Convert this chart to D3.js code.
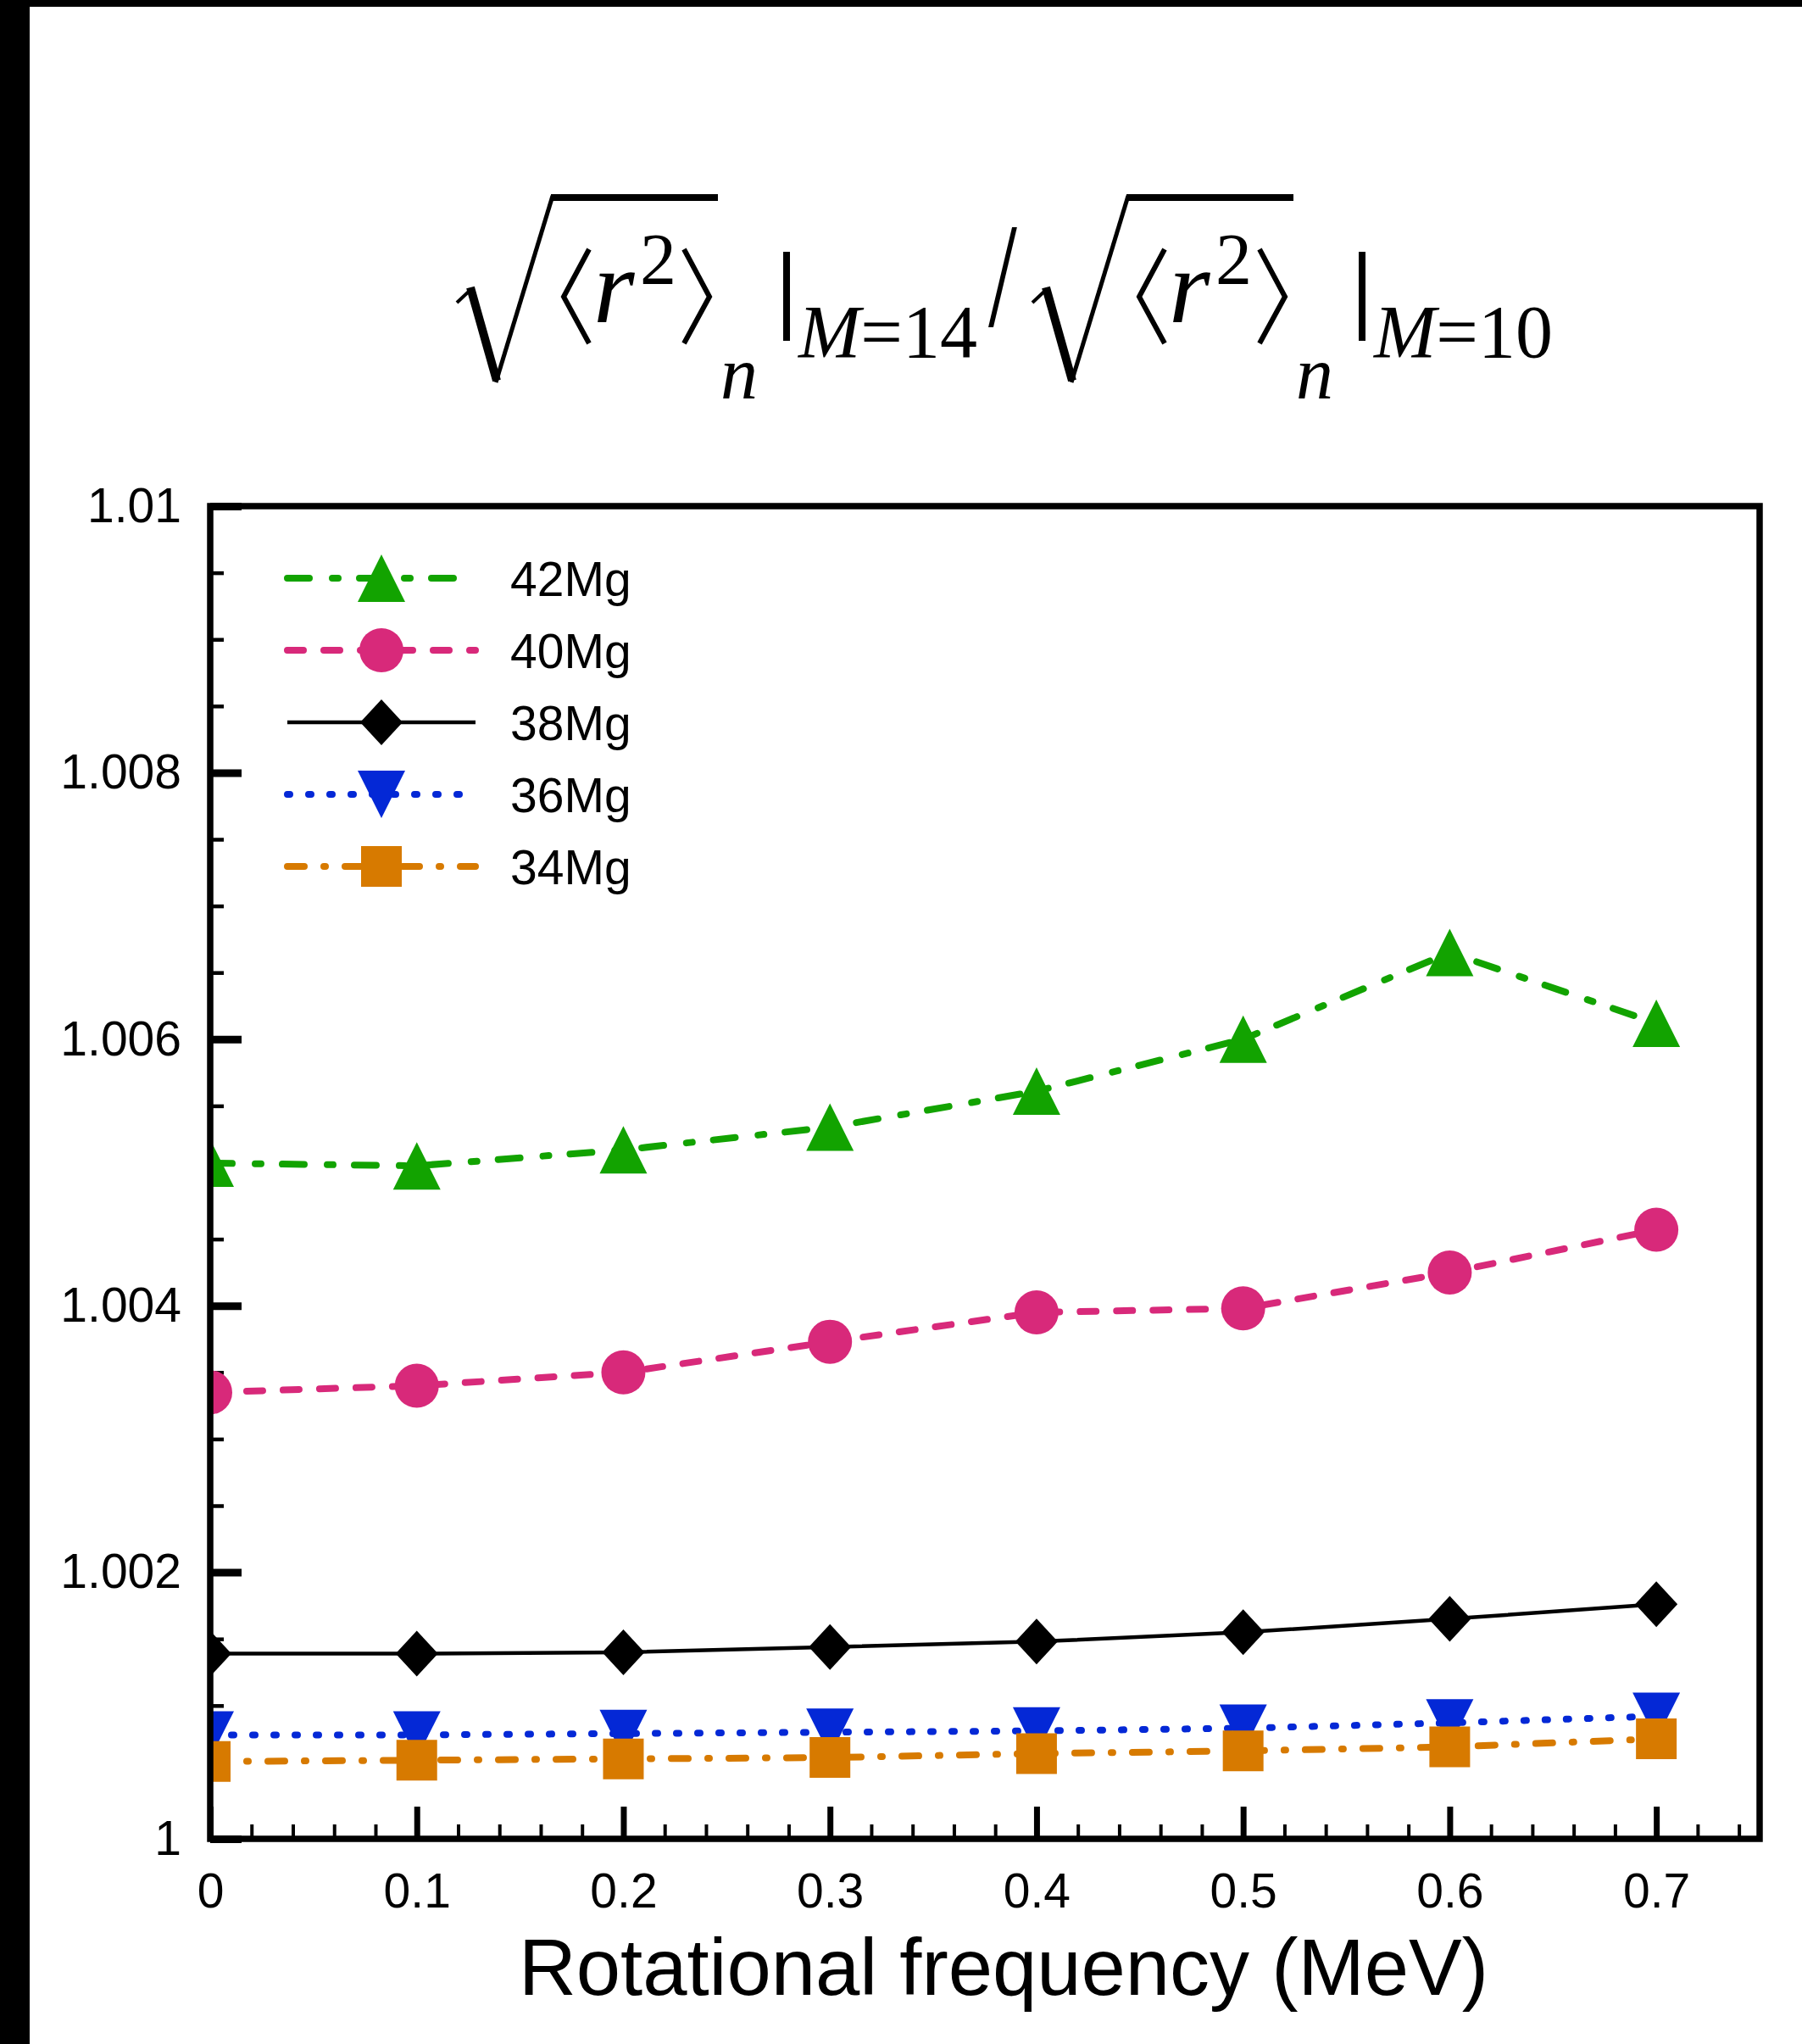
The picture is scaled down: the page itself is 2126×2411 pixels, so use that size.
<!DOCTYPE html>
<html>
<head>
<meta charset="utf-8">
<script src="https://cdn.jsdelivr.net/npm/d3@7"></script>
<style>
  body { margin: 0; background: #fff; }
  svg { display: block; }
</style>
</head>
<body>
<script>
// values
var freq = [0, 0.1, 0.2, 0.3, 0.4, 0.5, 0.6, 0.7]
var mg42 = [1.00507, 1.00505, 1.00517, 1.00534, 1.00561, 1.00600, 1.00665, 1.00612]
var mg40 = [1.00335, 1.00340, 1.00350, 1.00373, 1.00395, 1.00398, 1.00425, 1.00457]
var mg38 = [1.00139, 1.00139, 1.00140, 1.00144, 1.00148, 1.00155, 1.00165, 1.00176]
var mg36 = [1.00078, 1.00078, 1.00079, 1.00080, 1.00081, 1.00083, 1.00087, 1.00092]
var mg34 = [1.00058, 1.00059, 1.00060, 1.00061, 1.00064, 1.00066, 1.00069, 1.00075]
var names = ['42Mg', '40Mg', '38Mg', '36Mg', '34Mg']
var values = [mg42, mg40, mg38, mg36, mg34]
var xMajor = [0, 0.1, 0.2, 0.3, 0.4, 0.5, 0.6, 0.7]
var yMajor = [1, 1.002, 1.004, 1.006, 1.008, 1.01]

var W = 2126, H = 2411
var frame = { left: 248, right: 2076, top: 597, bottom: 2169 }

var style = {
  '42Mg': { color: '#12a300', dash: '26 27 7 25', width: 8, marker: 'triUp' },
  '40Mg': { color: '#d8297a', dash: '19 24', width: 8, marker: 'circle' },
  '38Mg': { color: '#000000', dash: null, width: 4.5, marker: 'diamond' },
  '36Mg': { color: '#0428d6', dash: '3 22', width: 8, marker: 'triDown' },
  '34Mg': { color: '#d77a00', dash: '20 23 2 23', width: 8, marker: 'square' }
}

var x = d3.scaleLinear().domain([0, 0.75]).range([frame.left, frame.right])
var y = d3.scaleLinear().domain([1, 1.01]).range([frame.bottom, frame.top])

var svg = d3.select('body').append('svg')
  .attr('width', W)
  .attr('height', H)

svg.append('rect').attr('width', W).attr('height', H).attr('fill', '#fff')
// black border strips of the scanned page
svg.append('rect').attr('x', 0).attr('y', 0).attr('width', 35).attr('height', H).attr('fill', '#000')
svg.append('rect').attr('x', 0).attr('y', 0).attr('width', W).attr('height', 8).attr('fill', '#000')

function markerPath(type) {
  if (type == 'triUp') return 'M0,-28L28,28L-28,28Z'
  if (type == 'triDown') return 'M-28,-28L28,-28L0,28Z'
  if (type == 'diamond') return 'M0,-27L25,0L0,27L-25,0Z'
  if (type == 'square') return 'M-24,-24H24V24H-24Z'
  // circle
  return d3.arc()({ innerRadius: 0, outerRadius: 26, startAngle: 0, endAngle: 2 * Math.PI })
}

// ---- title (math expression) ----
var title = svg.append('g').attr('class', 'title')

function drawRoot(dx, sub) {
  var g = title.append('g').attr('transform', 'translate(' + dx + ',0)')
  // radical
  g.append('path').attr('d', 'M539,357L556,341').attr('stroke', '#000').attr('stroke-width', 4).attr('fill', 'none')
  g.append('path').attr('d', 'M555,339L586,449').attr('stroke', '#000').attr('stroke-width', 10).attr('fill', 'none')
  g.append('path').attr('d', 'M585,451L652,231').attr('stroke', '#000').attr('stroke-width', 5).attr('fill', 'none')
  g.append('path').attr('d', 'M650,233H847').attr('stroke', '#000').attr('stroke-width', 8).attr('fill', 'none')
  // angle brackets
  g.append('path').attr('d', 'M695,294L665,350L695,405').attr('stroke', '#000').attr('stroke-width', 6).attr('fill', 'none')
  g.append('path').attr('d', 'M807,294L837,350L807,405').attr('stroke', '#000').attr('stroke-width', 6).attr('fill', 'none')
  g.append('text').attr('x', 700).attr('y', 380)
    .style('font-family', 'Liberation Serif').style('font-style', 'italic').style('font-size', '125px')
    .text('r')
  g.append('text').attr('x', 755).attr('y', 335)
    .style('font-family', 'Liberation Serif').style('font-size', '86px')
    .text('2')
  g.append('text').attr('x', 850).attr('y', 470)
    .style('font-family', 'Liberation Serif').style('font-style', 'italic').style('font-size', '88px')
    .text('n')
  // evaluation bar
  g.append('path').attr('d', 'M928,297V402').attr('stroke', '#000').attr('stroke-width', 8)
  var t = g.append('text').attr('x', 942).attr('y', 421)
    .style('font-family', 'Liberation Serif').style('font-size', '88px')
  t.append('tspan').style('font-style', 'italic').text('M')
  t.append('tspan').text('=' + sub)
}
drawRoot(0, '14')
title.append('text').attr('x', 1166).attr('y', 384)
  .style('font-family', 'Liberation Serif').style('font-size', '122px')
  .attr('transform', 'translate(1166,384) scale(1,1.45) translate(-1166,-384)')
  .text('/')
drawRoot(679, '10')

// ---- axes ----
var fontAxis = 'Liberation Sans, Arial, Helvetica, sans-serif'
var xMinor = d3.range(0, 0.75, 0.02).filter(function(v) { return Math.abs(v * 10 - Math.round(v * 10)) > 1e-6 })
var yMinor = d3.range(1, 1.01, 0.0005).filter(function(v) { return Math.abs((v - 1) * 500 - Math.round((v - 1) * 500)) > 1e-6 })

var gxMinor = svg.append('g').attr('transform', 'translate(0,' + frame.bottom + ')')
  .call(d3.axisBottom(x).tickValues(xMinor).tickSize(-17).tickFormat(''))
gxMinor.selectAll('line').attr('stroke-width', 4)

var gx = svg.append('g').attr('transform', 'translate(0,' + frame.bottom + ')')
  .call(d3.axisBottom(x).tickValues(xMajor).tickSize(-38).tickPadding(41)
    .tickFormat(function(d) { return +d.toFixed(1) + '' }))
gx.selectAll('line').attr('stroke-width', 7)

var gyMinor = svg.append('g').attr('transform', 'translate(' + frame.left + ',0)')
  .call(d3.axisLeft(y).tickValues(yMinor).tickSize(-16).tickFormat(''))
gyMinor.selectAll('line').attr('stroke-width', 4.5)

var gy = svg.append('g').attr('transform', 'translate(' + frame.left + ',0)')
  .call(d3.axisLeft(y).tickValues(yMajor).tickSize(-37).tickPadding(34)
    .tickFormat(function(d) { return +d.toFixed(3) + '' }))
gy.selectAll('line').attr('stroke-width', 9)

svg.selectAll('.domain').remove()
svg.selectAll('.tick text')
  .attr('fill', '#000')
  .style('font-family', fontAxis)
  .style('font-size', '57px')

svg.append('text')
  .attr('x', 1184).attr('y', 2353)
  .attr('text-anchor', 'middle')
  .style('font-family', fontAxis)
  .style('font-size', '94px')
  .text('Rotational frequency (MeV)')

// ---- series ----
svg.append('clipPath').attr('id', 'plotclip')
  .append('rect')
  .attr('x', frame.left).attr('y', frame.top)
  .attr('width', frame.right - frame.left).attr('height', frame.bottom - frame.top)

var plot = svg.append('g').attr('clip-path', 'url(#plotclip)')

var line = d3.line()
  .x(function(d) { return x(d[0]) })
  .y(function(d) { return y(d[1]) })

names.forEach(function(name, i) {
  var s = style[name]
  var pts = freq.map(function(f, j) { return [f, values[i][j]] })
  var g = plot.append('g')
  g.append('path')
    .datum(pts)
    .attr('d', line)
    .attr('fill', 'none')
    .attr('stroke', s.color)
    .attr('stroke-width', s.width)
    .attr('stroke-linecap', s.dash ? 'round' : 'butt')
    .attr('stroke-dasharray', s.dash)
  g.selectAll('path.mk').data(pts).enter().append('path')
    .attr('class', 'mk')
    .attr('d', markerPath(s.marker))
    .attr('transform', function(d) { return 'translate(' + x(d[0]) + ',' + y(d[1]) + ')' })
    .attr('fill', s.color)
})

// frame on top
svg.append('rect')
  .attr('x', frame.left).attr('y', frame.top)
  .attr('width', frame.right - frame.left).attr('height', frame.bottom - frame.top)
  .attr('fill', 'none')
  .attr('stroke', '#000')
  .attr('stroke-width', 7.5)

// ---- legend ----
var legend = svg.append('g')
names.forEach(function(name, i) {
  var s = style[name]
  var cy = 682 + i * 85
  legend.append('path')
    .attr('d', 'M339,' + cy + 'H561')
    .attr('stroke', s.color)
    .attr('stroke-width', s.width)
    .attr('stroke-linecap', s.dash ? 'round' : 'butt')
    .attr('stroke-dasharray', s.dash)
  legend.append('path')
    .attr('d', markerPath(s.marker))
    .attr('transform', 'translate(450,' + cy + ')')
    .attr('fill', s.color)
  legend.append('text')
    .attr('x', 602).attr('y', cy + 21)
    .style('font-family', fontAxis)
    .style('font-size', '57px')
    .text(name)
})
</script>
</body>
</html>
